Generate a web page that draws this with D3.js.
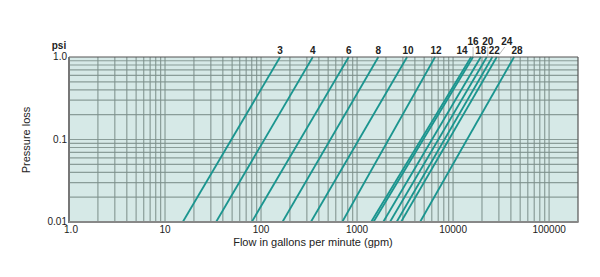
<!DOCTYPE html>
<html>
<head>
<meta charset="utf-8">
<script src="https://cdn.jsdelivr.net/npm/d3@7"></script>
<style>
  body { margin: 0; background: #ffffff; }
  svg { display: block; font-family: "Liberation Sans", Arial, sans-serif; }
</style>
</head>
<body>
<svg id="chart"></svg>
<script>
//--Data
//pipe sizes (inches)
const sizes = ["3", "4", "6", "8", "10", "12", "14", "16", "18", "20", "22", "24", "28"];
//flow (gpm) where each line meets 1.0 psi
const flowAtTop = [158, 346, 819, 1667, 3318, 6494, 15400, 16150, 19440, 22440, 25650, 28530, 43180];
//flow (gpm) where each line meets 0.01 psi
const flowAtBottom = [15.3, 34, 80, 167, 330, 700, 1400, 1480, 1870, 2200, 2580, 2870, 4530];
//axis ticks
const xTicks = [1, 10, 100, 1000, 10000, 100000];
const xTickLabels = ["1.0", "10", "100", "1000", "10000", "100000"];
const yTicks = [1, 0.1, 0.01];
const yTickLabels = ["1.0", "0.1", "0.01"];

//--Layout
const canvas = {
  width: 600,
  height: 277,
  left: 69,
  top: 57,
  right: 578,
  bottom: 222,
  bg: "#d6e9e7",
  grid: "#7d8f8b",
  line: "#1b958f"
};

const x = d3.scaleLog().domain([1, 200000]).range([canvas.left, canvas.right]);
const y = d3.scaleLog().domain([0.01, 1]).range([canvas.bottom, canvas.top]);

//label tweaks: horizontal nudge (px) and row (0 = lower, 1 = upper)
const labelNudge = [0, 0, 0, 0, 1, 1, -9, 0, 0, 1, 2, 10, 3];
const labelRow = [0, 0, 0, 0, 0, 0, 0, 1, 0, 1, 0, 1, 0];

const root = d3.select("#chart")
  .attr("width", canvas.width)
  .attr("height", canvas.height);

//plot background
root.append("rect")
  .attr("x", canvas.left)
  .attr("y", canvas.top)
  .attr("width", canvas.right - canvas.left)
  .attr("height", canvas.bottom - canvas.top)
  .attr("fill", canvas.bg);

//--Grid
const xGrid = [];
for (let d = 1; d < 200000; d *= 10) {
  for (let m = 1; m <= 9; m++) {
    const v = d * m;
    if (v > 1 && v < 200000) xGrid.push(v);
  }
}
const yGrid = [];
for (let d = 0.01; d < 1; d *= 10) {
  for (let m = 1; m <= 9; m++) {
    const v = d * m;
    if (v > 0.0100001 && v < 0.99999) yGrid.push(v);
  }
}

const grid = root.append("g")
  .attr("stroke", canvas.grid)
  .attr("stroke-width", 1.2)
  .attr("stroke-opacity", 0.85);
grid.selectAll("line.v")
  .data(xGrid)
  .enter()
  .append("line")
  .attr("class", "v")
  .attr("x1", d => x(d))
  .attr("x2", d => x(d))
  .attr("y1", canvas.top)
  .attr("y2", canvas.bottom);
grid.selectAll("line.h")
  .data(yGrid)
  .enter()
  .append("line")
  .attr("class", "h")
  .attr("x1", canvas.left)
  .attr("x2", canvas.right)
  .attr("y1", d => y(d))
  .attr("y2", d => y(d));

//--Pipe lines
root.append("g")
  .selectAll("line")
  .data(sizes)
  .enter()
  .append("line")
  .attr("x1", (d, i) => x(flowAtBottom[i]))
  .attr("y1", y(0.01))
  .attr("x2", (d, i) => x(flowAtTop[i]))
  .attr("y2", y(1))
  .attr("stroke", canvas.line)
  .attr("stroke-width", 1.8);

//--Frame
root.append("line")
  .attr("x1", canvas.left).attr("x2", canvas.right)
  .attr("y1", canvas.top).attr("y2", canvas.top)
  .attr("stroke", "#555").attr("stroke-width", 1.2);
root.append("line")
  .attr("x1", canvas.right).attr("x2", canvas.right)
  .attr("y1", canvas.top).attr("y2", canvas.bottom)
  .attr("stroke", "#555").attr("stroke-width", 1.2);
root.append("line")
  .attr("x1", canvas.left).attr("x2", canvas.left)
  .attr("y1", canvas.top).attr("y2", canvas.bottom + 1)
  .attr("stroke", "#777").attr("stroke-width", 2);
root.append("line")
  .attr("x1", canvas.left).attr("x2", canvas.right + 0.6)
  .attr("y1", canvas.bottom).attr("y2", canvas.bottom)
  .attr("stroke", "#888").attr("stroke-width", 2.2);

//--Size labels
const labels = root.append("g")
  .attr("font-size", 10)
  .attr("font-weight", "bold")
  .attr("fill", "#222")
  .attr("text-anchor", "middle");
labels.selectAll("text")
  .data(sizes)
  .enter()
  .append("text")
  .attr("x", (d, i) => x(flowAtTop[i]) + labelNudge[i])
  .attr("y", (d, i) => labelRow[i] ? 45 : 54)
  .text(d => d);

//leaders for the upper row
const leaders = root.append("g")
  .attr("stroke", "#aaa")
  .attr("stroke-width", 0.8);
sizes.forEach((d, i) => {
  if (!labelRow[i]) return;
  const lx = x(flowAtTop[i]) + labelNudge[i];
  if (d === "24") {
    leaders.append("line")
      .attr("x1", lx - 2).attr("y1", 47)
      .attr("x2", lx - 8).attr("y2", 55);
  } else {
    leaders.append("line")
      .attr("x1", lx).attr("y1", 47)
      .attr("x2", lx).attr("y2", 56);
  }
});

//--Axes labels
const xAxis = root.append("g")
  .attr("font-size", 10)
  .attr("fill", "#222")
  .attr("text-anchor", "middle");
xAxis.selectAll("text")
  .data(xTicks)
  .enter()
  .append("text")
  .attr("x", d => x(d) + (d === 1 ? 2 : 0))
  .attr("y", 233)
  .text((d, i) => xTickLabels[i]);

const yAxis = root.append("g")
  .attr("font-size", 10)
  .attr("fill", "#222")
  .attr("text-anchor", "end");
yAxis.selectAll("text")
  .data(yTicks)
  .enter()
  .append("text")
  .attr("x", canvas.left - 2)
  .attr("y", d => y(d) + 3)
  .text((d, i) => yTickLabels[i]);

root.append("text")
  .attr("x", 59)
  .attr("y", 49)
  .attr("text-anchor", "middle")
  .attr("font-size", 10)
  .attr("font-weight", "bold")
  .attr("fill", "#222")
  .text("psi");

root.append("text")
  .attr("x", 313)
  .attr("y", 246)
  .attr("text-anchor", "middle")
  .attr("font-size", 11)
  .attr("fill", "#222")
  .text("Flow in gallons per minute (gpm)");

root.append("text")
  .attr("transform", "translate(30,140) rotate(-90)")
  .attr("text-anchor", "middle")
  .attr("font-size", 11)
  .attr("fill", "#222")
  .text("Pressure loss");
</script>
</body>
</html>
